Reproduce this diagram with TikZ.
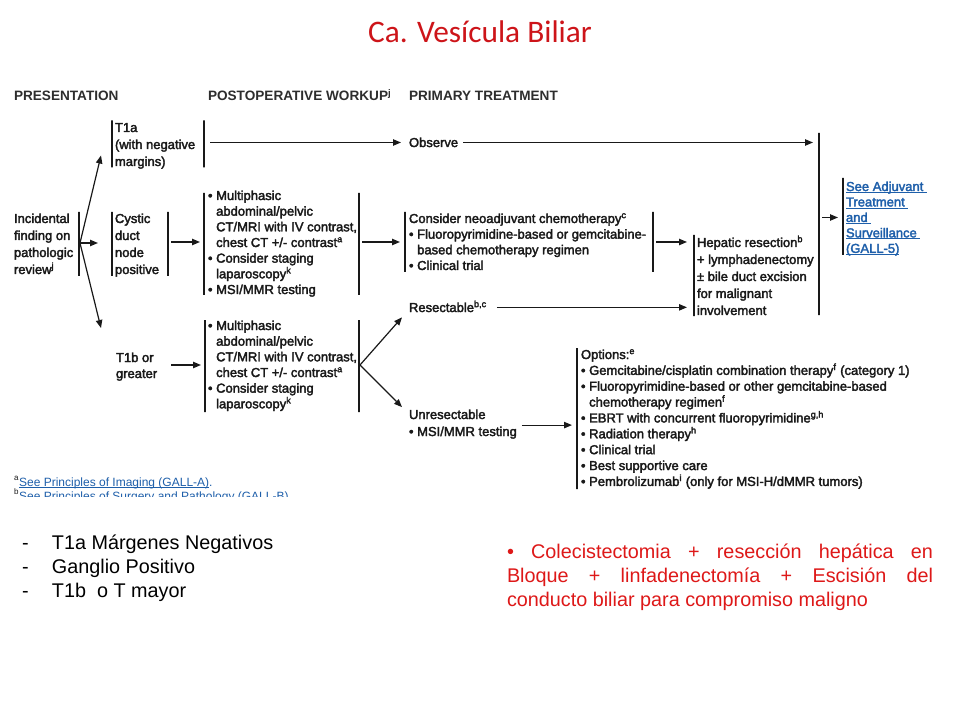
\documentclass[tikz,border=0pt]{standalone}
\usepackage{fontspec}
\setmainfont{Liberation Sans}
\newfontfamily\dg{Liberation Sans}[FakeBold=2.5]
\newfontfamily\titlefont{Carlito}
\usetikzlibrary{arrows.meta,calc}
\definecolor{ink}{RGB}{25,25,25}
\definecolor{hdr}{RGB}{45,45,45}
\definecolor{lnk}{RGB}{30,95,170}
\definecolor{tred}{RGB}{205,20,25}
\definecolor{pred}{RGB}{222,24,24}
\newcommand{\ls}[1]{\begin{tabular}[t]{@{}l@{}}#1\end{tabular}}
\newcommand{\ind}{\hphantom{\textbullet\ }}
\newcommand{\sps}[1]{\smash{\textsuperscript{#1}}}
\newcommand{\ulk}[1]{\setbox0\hbox{#1}\rlap{\rule[-1.4pt]{\wd0}{0.6pt}}\box0}
\newcommand{\fA}{\dg\fontsize{9.75}{12.75}\selectfont}
\newcommand{\fB}{\dg\fontsize{9.75}{11.75}\selectfont}
\newcommand{\fT}{\dg\fontsize{9.75}{12}\selectfont}
\newcommand{\fO}{\dg\fontsize{9.75}{11.9}\selectfont}
\newcommand{\fL}{\dg\fontsize{9.75}{11.6}\selectfont}
\newcommand{\fH}{\fontsize{10.2}{12}\selectfont\bfseries}
\newcommand{\fN}{\fontsize{9}{9}\selectfont}
\newcommand{\fS}{\fontsize{14.85}{18}\selectfont}
\tikzset{
  txt/.style={inner sep=0pt, outer sep=0pt, anchor=base west, text=ink},
  vbar/.style={draw=ink, line width=0.9pt, inner sep=0pt, outer sep=0pt,
    minimum width=0pt, minimum height=#1*0.75pt},
  arr/.style={draw=ink, line width=0.9pt, -{Triangle[length=6pt,width=4.8pt]}},
}
\begin{document}
\begin{tikzpicture}[x=0.75pt,y=-0.75pt]
\fill[white] (0,0) rectangle (960,720);
\useasboundingbox (0,0) rectangle (960,720);

% title
\node[anchor=base, inner sep=0pt, text=tred, font=\titlefont\fontsize{23.5}{28}\selectfont] (title) at (480,43) {Ca. Vesícula Biliar};

% headers
\node[txt, text=hdr, font=\fH] (hpres) at (14,101) {PRESENTATION};
\node[txt, text=hdr, font=\fH] (hwork) at (208,101) {POSTOPERATIVE WORKUP\sps{j}};
\node[txt, text=hdr, font=\fH] (hprim) at (409,101) {PRIMARY TREATMENT};

% presentation column
\node[txt, font=\fA] (inc) at (14,223) {\ls{Incidental\\finding on\\pathologic\\review\sps{j}}};
\node[txt, font=\fA] (t1a) at (115,132) {\ls{T1a\\(with negative\\margins)}};
\node[txt, font=\fA] (cys) at (115,223) {\ls{Cystic\\duct\\node\\positive}};
\node[txt, font=\fT] (t1b) at (116,362) {\ls{T1b or\\greater}};

% workup column
\node[txt, font=\fB] (wk1) at (208,200) {\ls{\textbullet\ Multiphasic\\\ind abdominal/pelvic\\\ind CT/MRI with IV contrast,\\\ind chest CT +/- contrast\sps{a}\\\textbullet\ Consider staging\\\ind laparoscopy\sps{k}\\\textbullet\ MSI/MMR testing}};
\node[txt, font=\fB] (wk2) at (208,330) {\ls{\textbullet\ Multiphasic\\\ind abdominal/pelvic\\\ind CT/MRI with IV contrast,\\\ind chest CT +/- contrast\sps{a}\\\textbullet\ Consider staging\\\ind laparoscopy\sps{k}}};

% primary treatment
\node[txt, font=\fB] (obs) at (409,147) {Observe};
\node[txt, font=\fB] (neo) at (409,223) {\ls{Consider neoadjuvant chemotherapy\sps{c}\\\textbullet\ Fluoropyrimidine-based or gemcitabine-\\\ind based chemotherapy regimen\\\textbullet\ Clinical trial}};
\node[txt, font=\fB] (res) at (409,312) {Resectable\sps{b,c}};
\node[txt, font=\fA] (unres) at (409,419) {\ls{Unresectable\\\textbullet\ MSI/MMR testing}};
\node[txt, font=\fA] (hep) at (697,247) {\ls{Hepatic resection\sps{b}\\+ lymphadenectomy\\± bile duct excision\\for malignant\\involvement}};
\node[txt, font=\fO] (opt) at (581,359) {\ls{Options:\sps{e}\\\textbullet\ Gemcitabine/cisplatin combination therapy\sps{f} (category 1)\\\textbullet\ Fluoropyrimidine-based or other gemcitabine-based\\\ind chemotherapy regimen\sps{f}\\\textbullet\ EBRT with concurrent fluoropyrimidine\sps{g,h}\\\textbullet\ Radiation therapy\sps{h}\\\textbullet\ Clinical trial\\\textbullet\ Best supportive care\\\textbullet\ Pembrolizumab\sps{i} (only for MSI-H/dMMR tumors)}};
\node[txt, text=lnk, font=\fL] (link) at (846,191) {\ls{\ulk{See Adjuvant\ }\\\ulk{Treatment\ }\\\ulk{and\ }\\\ulk{Surveillance\ }\\\ulk{(GALL-5)}}};

% footnotes
\begin{scope}
\clip (0,0) rectangle (960,496);
\node[txt, font=\fN] (fna) at (14,486) {\sps{a}\textcolor{lnk}{\ulk{See Principles of Imaging (GALL-A)}.}};
\node[txt, font=\fN] (fnb) at (14,500) {\sps{b}\textcolor{lnk}{\ulk{See Principles of Surgery and Pathology (GALL-B)}.}};
\end{scope}

% bars
\node[vbar=64] (incR) at (79,244) {};
\node[vbar=47] (t1aL) at (112,144) {};
\node[vbar=47] (t1aR) at (204,144) {};
\node[vbar=64] (cysL) at (112,244) {};
\node[vbar=64] (cysR) at (168,244) {};
\node[vbar=102] (wk1L) at (204,244) {};
\node[vbar=102] (wk1R) at (359,244) {};
\node[vbar=60] (neoL) at (405,242) {};
\node[vbar=60] (neoR) at (653,242) {};
\node[vbar=81] (hepL) at (694,275.5) {};
\node[vbar=182] (big) at (819,224) {};
\node[vbar=77] (linkL) at (843,216.5) {};
\node[vbar=92] (wk2L) at (205,366) {};
\node[vbar=92] (wk2R) at (359,366) {};
\node[vbar=141] (optL) at (577,418.5) {};

% connectors
\draw[arr] ($(incR)+(1,-1)$) -- ($(t1aL.south)+(-11,-12)$);
\draw[arr] ($(incR)+(1,-1)$) -- ($(cysL)+(-14,-1)$);
\draw[arr] ($(incR)+(1,-1)$) -- ($(wk2L)+(-104,-38)$);
\draw[arr] ($(t1aR)+(6,-1.5)$) -- ($(t1aR -| obs.west)+(-8,-1.5)$);
\draw[arr] ($(t1aR -| obs.east)+(5,-1.5)$) -- ($(t1aR -| big)+(-6,-1.5)$);
\draw[arr] ($(linkL -| big)+(3,1)$) -- ($(linkL)+(-5,1)$);
\draw[arr] ($(cysR)+(3,-2)$) -- ($(wk1L)+(-4,-2)$);
\draw[arr] ($(wk2L -| t1b.east)+(14,-1)$) -- ($(wk2L)+(-4,-1)$);
\draw[arr] ($(wk1R)+(3,-2)$) -- ($(wk1R -| neoL)+(-5,-2)$);
\draw[arr] ($(neoR)+(3,0)$) -- ($(neoR -| hepL)+(-7,0)$);
\draw[arr] ($(res.east)+(10,0)$) -- ($(res.east -| hepL)+(-7,0)$);
\draw[arr] ($(wk2R)+(1,-1)$) -- ($(res.west)+(-7,10)$);
\draw[arr] ($(wk2R)+(1,-1)$) -- ($(unres.north west)+(-7,0)$);
\draw[arr] ($(unres.south east)+(5,-16)$) -- ($(unres.south east -| optL)+(-5,-16)$);

% bottom notes
\node[txt, text=black, font=\fS] (notes) at (22,549) {\ls{\makebox[22.5pt][l]{-}T1a Márgenes Negativos\\\makebox[22.5pt][l]{-}Ganglio Positivo\\\makebox[22.5pt][l]{-}T1b\ \ o T mayor}};
\node[txt, text=pred, font=\fS] (proc) at (507,558) {\ls{\makebox[319.5pt][s]{\textbullet\ Colecistectomia + resección hepática en}\\\makebox[319.5pt][s]{Bloque + linfadenectomía + Escisión del}\\conducto biliar para compromiso maligno}};
\end{tikzpicture}
\end{document}
